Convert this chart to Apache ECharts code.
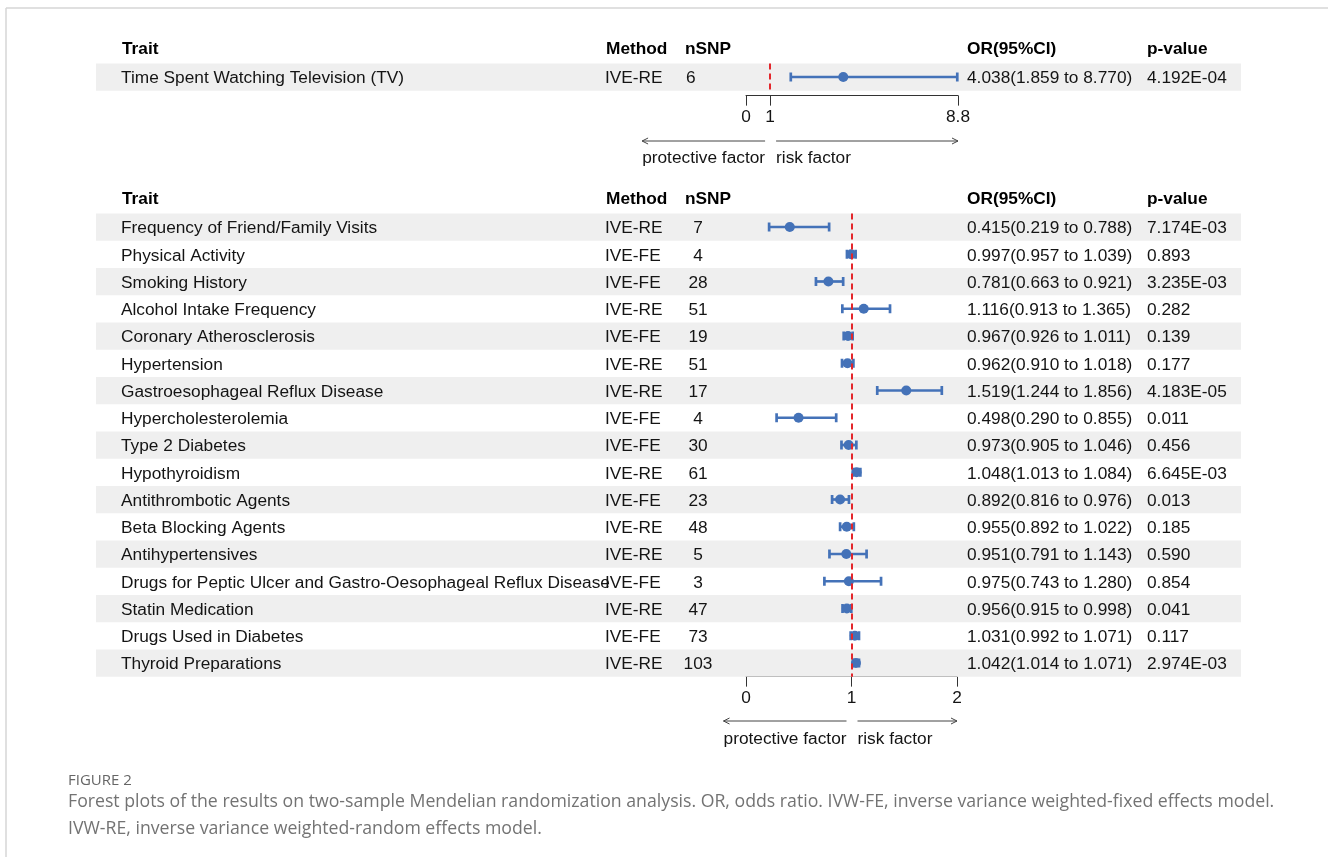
<!DOCTYPE html>
<html>
<head>
<meta charset="utf-8">
<script src="https://cdn.jsdelivr.net/npm/echarts@6/dist/echarts.min.js"></script>
<style>
  html, body { margin: 0; padding: 0; background: #ffffff; }
  #chart { width: 1328px; height: 857px; }
</style>
</head>
<body>
<div id="chart"></div>
<script>
// Column headings of both tables
const headers = ['Trait', 'Method', 'nSNP', 'OR(95%CI)', 'p-value'];

// Exposure panel
const tvTraits = ['Time Spent Watching Television (TV)'];
const tvMethods = ['IVE-RE'];
const tvSnps = [6];
const tvOR = [4.038];
const tvLower = [1.859];
const tvUpper = [8.770];
const tvP = ['4.192E-04'];
const tvTicks = [0, 1, 8.8];

// Outcome panel
const traits = [
  'Frequency of Friend/Family Visits',
  'Physical Activity',
  'Smoking History',
  'Alcohol Intake Frequency',
  'Coronary Atherosclerosis',
  'Hypertension',
  'Gastroesophageal Reflux Disease',
  'Hypercholesterolemia',
  'Type 2 Diabetes',
  'Hypothyroidism',
  'Antithrombotic Agents',
  'Beta Blocking Agents',
  'Antihypertensives',
  'Drugs for Peptic Ulcer and Gastro-Oesophageal Reflux Disease',
  'Statin Medication',
  'Drugs Used in Diabetes',
  'Thyroid Preparations'
];
const methods = ['IVE-RE', 'IVE-FE', 'IVE-FE', 'IVE-RE', 'IVE-FE', 'IVE-RE', 'IVE-RE', 'IVE-FE',
  'IVE-FE', 'IVE-RE', 'IVE-FE', 'IVE-RE', 'IVE-RE', 'IVE-FE', 'IVE-RE', 'IVE-FE', 'IVE-RE'];
const snps = [7, 4, 28, 51, 19, 51, 17, 4, 30, 61, 23, 48, 5, 3, 47, 73, 103];
const orValues = [0.415, 0.997, 0.781, 1.116, 0.967, 0.962, 1.519, 0.498, 0.973, 1.048, 0.892,
  0.955, 0.951, 0.975, 0.956, 1.031, 1.042];
const lower = [0.219, 0.957, 0.663, 0.913, 0.926, 0.910, 1.244, 0.290, 0.905, 1.013, 0.816,
  0.892, 0.791, 0.743, 0.915, 0.992, 1.014];
const upper = [0.788, 1.039, 0.921, 1.365, 1.011, 1.018, 1.856, 0.855, 1.046, 1.084, 0.976,
  1.022, 1.143, 1.280, 0.998, 1.071, 1.071];
const pValues = ['7.174E-03', '0.893', '3.235E-03', '0.282', '0.139', '0.177', '4.183E-05', '0.011',
  '0.456', '6.645E-03', '0.013', '0.185', '0.590', '0.854', '0.041', '0.117', '2.974E-03'];
const outTicks = [0, 1, 2];

const FONT = '"Liberation Sans", Arial, sans-serif';
const FS = 17.3;
const TEXT = '#141414';
const BLUE = '#4472b8';
const BAND = '#efefef';
const DY = 1.5; // optical centring of table text within its row

// table layout (pixel columns)
const COL = { band: 96, bandW: 1145, trait: 121, method: 605, snp: 686, snpMid: 698, or: 967, p: 1147 };

const fmtOR = (o, l, u) => o.toFixed(3) + '(' + l.toFixed(3) + ' to ' + u.toFixed(3) + ')';

function tableSeries(gridIdx, tr, me, sn, o, l, u, p, snpCentered) {
  return {
    type: 'custom',
    xAxisIndex: gridIdx, yAxisIndex: gridIdx,
    clip: false, silent: true, z: 1,
    data: tr.map((_, i) => [0, i]),
    encode: { x: 0, y: 1 },
    renderItem: function (params, api) {
      const i = params.dataIndex;
      const y = api.coord([0, i])[1];
      const h = Math.abs(api.coord([0, i + 0.5])[1] - api.coord([0, i - 0.5])[1]);
      const txt = (x, s, align) => ({
        type: 'text',
        style: { x: x, y: y + DY, text: s, textAlign: align || 'left', textVerticalAlign: 'middle',
          font: FS + 'px ' + FONT, fill: TEXT }
      });
      const children = [];
      if (i % 2 === 0) {
        children.push({ type: 'rect', shape: { x: COL.band, y: y - h / 2, width: COL.bandW, height: h },
          style: { fill: BAND } });
      }
      children.push(txt(COL.trait, tr[i]));
      children.push(txt(COL.method, me[i]));
      children.push(snpCentered ? txt(COL.snpMid, String(sn[i]), 'center') : txt(COL.snp, String(sn[i])));
      children.push(txt(COL.or, fmtOR(o[i], l[i], u[i])));
      children.push(txt(COL.p, p[i]));
      return { type: 'group', children: children };
    }
  };
}

function forestSeries(gridIdx, o, l, u) {
  return {
    type: 'custom',
    xAxisIndex: gridIdx, yAxisIndex: gridIdx,
    clip: false, z: 3,
    data: o.map((v, i) => [v, i, l[i], u[i]]),
    encode: { x: 0, y: 1 },
    renderItem: function (params, api) {
      const yi = api.value(1);
      const pt = api.coord([api.value(0), yi]);
      const lo = api.coord([api.value(2), yi]);
      const hi = api.coord([api.value(3), yi]);
      const cap = 4.5;
      const ls = { stroke: BLUE, lineWidth: 2.7 };
      return {
        type: 'group',
        children: [
          { type: 'line', shape: { x1: lo[0], y1: pt[1], x2: hi[0], y2: pt[1] }, style: ls },
          { type: 'line', shape: { x1: lo[0], y1: pt[1] - cap, x2: lo[0], y2: pt[1] + cap }, style: ls },
          { type: 'line', shape: { x1: hi[0], y1: pt[1] - cap, x2: hi[0], y2: pt[1] + cap }, style: ls },
          { type: 'circle', shape: { cx: pt[0], cy: pt[1], r: 5 }, style: { fill: BLUE } }
        ]
      };
    },
    markLine: {
      silent: true, symbol: 'none', z: 5,
      label: { show: false },
      lineStyle: { color: '#e3262b', type: [6, 4], width: 2 },
      data: [{ xAxis: 1 }]
    }
  };
}

function xAxisFor(gridIdx, max, ticks) {
  return {
    gridIndex: gridIdx, type: 'value', min: 0, max: max, position: 'bottom', offset: gridIdx === 0 ? 5 : 0,
    splitLine: { show: false },
    axisLine: { show: true, onZero: false, lineStyle: { color: '#333333', width: 1 } },
    axisTick: { show: true, length: 10, customValues: ticks, lineStyle: { color: '#333333', width: 1 } },
    axisLabel: { customValues: ticks, formatter: v => String(v), fontSize: FS, fontFamily: FONT,
      color: TEXT, margin: 13, showMinLabel: true, showMaxLabel: true }
  };
}

// rows run top to bottom: value axis from -0.5 to n-0.5, inverted
function yAxisFor(gridIdx, n) {
  return { gridIndex: gridIdx, type: 'value', min: -0.5, max: n - 0.5, inverse: true, show: false,
    splitLine: { show: false } };
}

const ROW = 27.25;
const chart = echarts.init(document.getElementById('chart'), null, { renderer: 'canvas' });

const headerGraphics = [];
[48, 198].forEach(y => {
  const xs = [122, 606, 685, 967, 1147];
  headers.forEach((h, k) => headerGraphics.push({
    type: 'text', x: xs[k], y: y + DY,
    style: { text: h, font: 'bold ' + FS + 'px ' + FONT, fill: '#000', textVerticalAlign: 'middle' }
  }));
});

chart.setOption({
  animation: false,
  backgroundColor: '#ffffff',
  grid: [
    { left: 746, width: 212, top: 77 - ROW / 2, height: ROW },
    { left: 746, width: 211, top: 227 - ROW / 2, height: ROW * traits.length }
  ],
  xAxis: [xAxisFor(0, 8.8, tvTicks), xAxisFor(1, 2, outTicks)],
  yAxis: [yAxisFor(0, tvTraits.length), yAxisFor(1, traits.length)],
  series: [
    tableSeries(0, tvTraits, tvMethods, tvSnps, tvOR, tvLower, tvUpper, tvP, false),
    forestSeries(0, tvOR, tvLower, tvUpper),
    tableSeries(1, traits, methods, snps, orValues, lower, upper, pValues, true),
    forestSeries(1, orValues, lower, upper)
  ]
});

// direction arrows under each axis, anchored at OR = 1
function arrowGraphics(gridIdx, maxVal, yArrow, yText) {
  const x1 = chart.convertToPixel({ xAxisIndex: gridIdx }, 1);
  const xEnd = chart.convertToPixel({ xAxisIndex: gridIdx }, maxVal);
  const L0 = x1 - 128, L1 = x1 - 5, R0 = x1 + 6, R1 = xEnd;
  const st = { stroke: '#444444', lineWidth: 1, fill: null };
  return [
    { type: 'line', shape: { x1: L0, y1: yArrow, x2: L1, y2: yArrow }, style: st },
    { type: 'polyline', shape: { points: [[L0 + 6, yArrow - 3], [L0, yArrow], [L0 + 6, yArrow + 3]] }, style: st },
    { type: 'line', shape: { x1: R0, y1: yArrow, x2: R1, y2: yArrow }, style: st },
    { type: 'polyline', shape: { points: [[R1 - 6, yArrow - 3], [R1, yArrow], [R1 - 6, yArrow + 3]] }, style: st },
    { type: 'text', x: L1, y: yText + DY, style: { text: 'protective factor', font: FS + 'px ' + FONT, fill: TEXT,
      textAlign: 'right', textVerticalAlign: 'middle' } },
    { type: 'text', x: R0, y: yText + DY, style: { text: 'risk factor', font: FS + 'px ' + FONT, fill: TEXT,
      textAlign: 'left', textVerticalAlign: 'middle' } }
  ];
}

const CAP = '"Open Sans", "Noto Sans", sans-serif';
chart.setOption({
  graphic: [
    // page frame
    { type: 'line', shape: { x1: 6, y1: 8, x2: 1328, y2: 8 }, style: { stroke: '#d6d6d6', lineWidth: 1.5 } },
    { type: 'line', shape: { x1: 6, y1: 8, x2: 6, y2: 857 }, style: { stroke: '#d6d6d6', lineWidth: 1.5 } },
    ...headerGraphics,
    ...arrowGraphics(0, 8.8, 141, 157),
    ...arrowGraphics(1, 2, 721, 738),
    // caption
    { type: 'text', x: 68, y: 781, style: { text: 'FIGURE 2', font: '15px ' + CAP, fill: '#666666',
      textVerticalAlign: 'middle' } },
    { type: 'text', x: 68, y: 802, style: { text: 'Forest plots of the results on two-sample Mendelian randomization analysis. OR, odds ratio. IVW-FE, inverse variance weighted-fixed effects model.',
      font: '17.7px ' + CAP, fill: '#737373', textVerticalAlign: 'middle' } },
    { type: 'text', x: 68, y: 829, style: { text: 'IVW-RE, inverse variance weighted-random effects model.',
      font: '17.7px ' + CAP, fill: '#737373', textVerticalAlign: 'middle' } }
  ]
});
</script>
</body>
</html>
